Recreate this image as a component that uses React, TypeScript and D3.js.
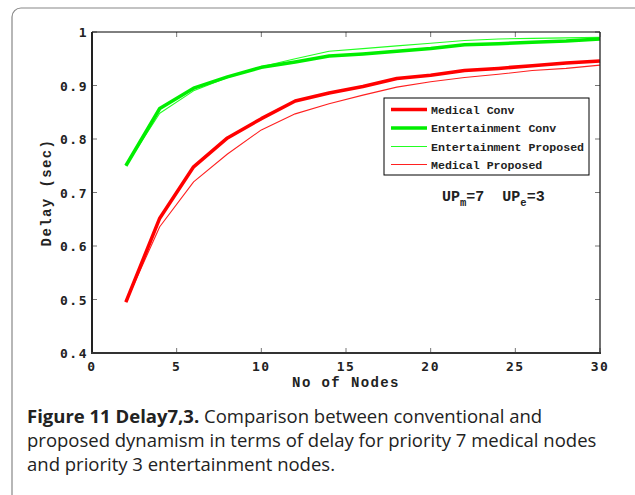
import React from "react";
import * as d3 from "d3";

// Number of nodes on the network
const nodes = [2, 4, 6, 8, 10, 12, 14, 16, 18, 20, 22, 24, 26, 28, 30];

// Delay (sec) per scheme
const medicalConv = [0.495, 0.652, 0.748, 0.802, 0.838, 0.871, 0.886, 0.898, 0.913, 0.919, 0.928, 0.932, 0.937, 0.942, 0.946];
const entertainmentConv = [0.75, 0.857, 0.895, 0.916, 0.934, 0.944, 0.955, 0.959, 0.964, 0.969, 0.976, 0.978, 0.981, 0.983, 0.987];
const entertainmentProposed = [0.75, 0.848, 0.89, 0.915, 0.935, 0.95, 0.964, 0.969, 0.974, 0.979, 0.984, 0.987, 0.988, 0.989, 0.99];
const medicalProposed = [0.495, 0.636, 0.72, 0.772, 0.817, 0.847, 0.866, 0.882, 0.897, 0.907, 0.915, 0.921, 0.928, 0.932, 0.938];

const xTicks = [0, 5, 10, 15, 20, 25, 30];
const yTicks = [0.4, 0.5, 0.6, 0.7, 0.8, 0.9, 1];
const yTickLabels = ["0.4", "0.5", "0.6", "0.7", "0.8", "0.9", "1"];

const series = [
  { name: "Medical Conv", values: medicalConv, color: "#ff0000", width: 3.5 },
  { name: "Entertainment Conv", values: entertainmentConv, color: "#00ee00", width: 3.5 },
  { name: "Entertainment Proposed", values: entertainmentProposed, color: "#22ff22", width: 1.1 },
  { name: "Medical Proposed", values: medicalProposed, color: "#ff2020", width: 1.1 },
];

const W = 635;
const H = 495;
const plot = { left: 92, right: 600, top: 32, bottom: 353 };

export default function App() {
  const x = d3.scaleLinear().domain([0, 30]).range([plot.left, plot.right]);
  const y = d3.scaleLinear().domain([0.4, 1]).range([plot.bottom, plot.top]);

  const line = (vals: number[]) =>
    d3
      .line<number>()
      .x((_, i) => x(nodes[i]))
      .y((v) => y(v))(vals) || "";

  const mono = "'DejaVu Sans Mono', monospace";
  const courier = "'Liberation Mono', 'Courier New', monospace";
  const tickLen = 5;

  // draw thin lines first so thick ones sit on top
  const drawOrder = [series[2], series[3], series[1], series[0]];

  const legendX = 384;
  const legendY = 98;
  const legendRowY = [109.5, 128, 146.5, 164.5];

  return (
    <svg width={W} height={H} style={{ position: "absolute", left: 0, top: 0, background: "#fff" }}>
      <rect x={0} y={0} width={W} height={H} fill="#fff" />
      {/* panel frame */}
      <rect x={12} y={8} width={W + 20} height={H + 20} rx={9} ry={9} fill="none" stroke="#888" strokeWidth={1.2} />

      {/* tick marks, inside on all four sides */}
      {xTicks.map((t) => (
        <g key={"xt" + t}>
          <line x1={x(t)} x2={x(t)} y1={plot.bottom} y2={plot.bottom - tickLen} stroke="#777" strokeWidth={1} />
          <line x1={x(t)} x2={x(t)} y1={plot.top} y2={plot.top + tickLen} stroke="#777" strokeWidth={1} />
        </g>
      ))}
      {yTicks.map((t) => (
        <g key={"yt" + t}>
          <line x1={plot.left} x2={plot.left + tickLen} y1={y(t)} y2={y(t)} stroke="#777" strokeWidth={1} />
          <line x1={plot.right} x2={plot.right - tickLen} y1={y(t)} y2={y(t)} stroke="#777" strokeWidth={1} />
        </g>
      ))}

      {/* series */}
      {drawOrder.map((s) => (
        <path key={s.name} d={line(s.values)} fill="none" stroke={s.color} strokeWidth={s.width} strokeLinejoin="round" />
      ))}

      {/* axes box */}
      <line x1={plot.left} x2={plot.right} y1={plot.top} y2={plot.top} stroke="#000" strokeWidth={1} />
      <line x1={plot.right} x2={plot.right} y1={plot.top} y2={plot.bottom} stroke="#222" strokeWidth={1.3} />
      <line x1={plot.left} x2={plot.left} y1={plot.top} y2={plot.bottom + 1} stroke="#222" strokeWidth={2} />
      <line x1={plot.left - 1} x2={plot.right + 1} y1={plot.bottom} y2={plot.bottom} stroke="#333" strokeWidth={2} />

      {/* tick labels */}
      {xTicks.map((t) => (
        <text key={"xl" + t} x={x(t)} y={plot.bottom + 18} textAnchor="middle" fontFamily={mono} fontWeight="bold" fontSize={13} letterSpacing={1.5} fill="#222">
          {t}
        </text>
      ))}
      {yTicks.map((t, i) => (
        <text key={"yl" + t} x={plot.left - 4} y={y(t) + 5} textAnchor="end" fontFamily={mono} fontWeight="bold" fontSize={13} letterSpacing={1.5} fill="#222">
          {yTickLabels[i]}
        </text>
      ))}

      {/* axis titles */}
      <text x={(plot.left + plot.right) / 2} y={387} textAnchor="middle" fontFamily={courier} fontWeight="bold" fontSize={14} letterSpacing={1.4} fill="#222">
        No of Nodes
      </text>
      <text transform={`translate(51,${(plot.top + plot.bottom) / 2}) rotate(-90)`} textAnchor="middle" fontFamily={courier} fontWeight="bold" fontSize={14} letterSpacing={1.4} fill="#222">
        Delay (sec)
      </text>

      {/* legend */}
      <rect x={legendX} y={legendY} width={205} height={77} fill="#fff" stroke="#000" strokeWidth={1} />
      {series.map((s, i) => (
        <g key={"lg" + s.name}>
          <line x1={391} x2={427} y1={legendRowY[i]} y2={legendRowY[i]} stroke={s.color} strokeWidth={s.width} />
          <text x={431} y={legendRowY[i] + 4} fontFamily={courier} fontWeight="bold" fontSize={11.6} fill="#222">
            {s.name}
          </text>
        </g>
      ))}

      {/* unit priority annotation */}
      <text x={442} y={201} fontFamily={courier} fontWeight="bold" fontSize={15} fill="#222">
        <tspan>UP</tspan>
        <tspan fontSize={10.5} dy={5}>m</tspan>
        <tspan dy={-5}>=7</tspan>
        <tspan dx={18}>UP</tspan>
        <tspan fontSize={10.5} dy={5}>e</tspan>
        <tspan dy={-5}>=3</tspan>
      </text>

      {/* caption */}
      <g fontFamily="'Open Sans', 'Noto Sans', sans-serif" fontSize={18.5} fill="#222">
        <text x={27} y={423}>
          <tspan fontWeight="bold">Figure 11 Delay7,3.</tspan>
          <tspan> Comparison between conventional and</tspan>
        </text>
        <text x={27} y={447}>proposed dynamism in terms of delay for priority 7 medical nodes</text>
        <text x={27} y={471}>and priority 3 entertainment nodes.</text>
      </g>
    </svg>
  );
}
